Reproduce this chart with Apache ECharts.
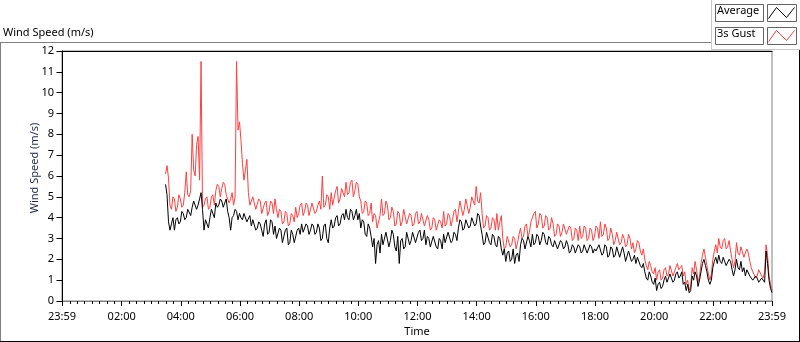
<!DOCTYPE html>
<html>
<head>
<meta charset="utf-8">
<script src="https://cdn.jsdelivr.net/npm/echarts@6/dist/echarts.min.js"></script>
<style>
  html, body { margin: 0; padding: 0; background: #fff; }
  #wind { width: 800px; height: 342px; }
</style>
</head>
<body>
<div id="wind"></div>
<script>
/* wind speed waveform chart (LabVIEW style) */

// "A" samples every 6 minutes from 03:29 to 23:59,
// "B" samples sit 3 minutes after each "A" sample
var startMinute = 3 * 60 + 29;
var stepMinutes = 6;

var seriesNames = ['Average', '3s Gust'];

var gustA = [
  6.1, 5.9, 4.4, 4.9, 4.5, 4.9, 4.6, 6.2, 5.0, 8.0,
  6.0, 7.9, 11.5, 4.6, 5.0, 4.5, 5.1, 5.3, 5.5, 5.4,
  5.6, 5.1, 4.9, 4.6, 11.5, 8.6, 6.6, 6.3, 5.2, 4.6,
  5.0, 4.4, 4.8, 4.2, 4.8, 4.3, 4.7, 4.9, 4.0, 4.3,
  3.8, 4.2, 3.7, 4.1, 4.5, 4.2, 4.7, 4.3, 4.6, 4.4,
  4.7, 4.3, 4.8, 6.0, 4.6, 5.0, 5.2, 4.6, 5.5, 4.9,
  5.4, 5.7, 5.2, 5.8, 5.3, 5.6, 4.8, 4.3, 4.7, 4.2,
  3.8, 4.1, 3.5, 4.9, 4.2, 4.6, 4.0, 4.3, 3.7, 4.2,
  3.8, 4.4, 3.7, 4.1, 3.7, 4.3, 3.8, 4.2, 3.6, 3.9,
  3.5, 3.9, 3.4, 3.8, 4.3, 3.7, 4.1, 3.9, 4.4, 4.3,
  4.8, 4.4, 4.9, 4.5, 5.0, 5.5, 4.7, 4.2, 3.6, 4.0,
  3.5, 3.9, 4.2, 3.8, 3.0, 2.6, 3.1, 2.7, 3.0, 2.8,
  3.5, 3.1, 3.7, 3.3, 3.8, 4.3, 3.7, 4.1, 3.6, 4.0,
  3.5, 3.7, 3.2, 3.6, 3.3, 3.7, 3.2, 3.5, 3.0, 3.4,
  3.6, 3.1, 3.5, 3.0, 3.4, 3.1, 3.5, 3.8, 3.2, 3.5,
  3.0, 3.2, 2.9, 3.3, 2.8, 3.0, 2.7, 3.0, 2.8, 2.5,
  2.8, 2.2, 2.0, 1.5, 1.7, 1.3, 1.0, 1.5, 1.1, 1.6,
  1.3, 1.7, 1.4, 1.8, 1.6, 1.2, 0.8, 0.5, 1.6, 1.9,
  0.9, 1.8, 2.5, 1.7, 1.0, 2.0, 2.7, 3.0, 2.5, 3.0,
  2.6, 2.4, 1.6, 2.8, 2.2, 2.6, 2.1, 2.3, 1.6, 1.4,
  1.2, 1.5, 1.1, 2.7, 1.2, 0.5
];

var gustB = [
  6.5, 4.6, 5.0, 4.3, 5.1, 4.5, 5.2, 5.1, 5.3, 6.3,
  7.5, 5.8, 4.5, 4.9, 4.4, 5.0, 4.6, 5.6, 5.0, 5.7,
  5.1, 4.7, 5.2, 5.0, 8.2, 7.7, 5.8, 6.8, 4.6, 5.0,
  4.4, 4.9, 4.2, 4.7, 4.1, 4.8, 4.2, 4.4, 4.4, 3.7,
  4.3, 3.6, 4.2, 3.8, 4.0, 4.6, 4.1, 4.7, 4.1, 4.7,
  4.2, 4.6, 4.4, 4.5, 5.1, 4.4, 4.6, 5.3, 4.7, 5.4,
  5.0, 5.1, 5.7, 5.0, 5.7, 5.0, 4.2, 4.8, 4.1, 4.7,
  4.2, 3.5, 4.1, 4.1, 4.8, 3.9, 4.5, 3.6, 4.3, 3.6,
  4.4, 3.7, 4.2, 3.6, 4.2, 3.7, 4.2, 3.6, 4.1, 3.4,
  4.0, 3.4, 3.9, 3.5, 3.6, 4.2, 3.6, 4.3, 3.8, 4.8,
  4.1, 4.9, 4.2, 5.0, 4.6, 4.8, 5.2, 3.5, 4.1, 3.4,
  4.0, 3.4, 3.4, 4.1, 2.5, 3.1, 2.6, 3.1, 2.5, 3.2,
  3.0, 3.6, 3.1, 3.8, 4.2, 3.5, 4.2, 3.5, 4.1, 3.4,
  4.0, 3.1, 3.7, 3.1, 3.7, 3.2, 3.6, 2.9, 3.5, 2.9,
  3.0, 3.6, 2.9, 3.5, 2.9, 3.6, 3.0, 3.1, 3.7, 2.9,
  3.5, 2.7, 3.3, 2.7, 3.2, 2.6, 3.2, 2.5, 2.3, 2.9,
  2.4, 2.5, 1.7, 1.9, 1.4, 1.6, 1.4, 1.0, 1.5, 1.2,
  1.7, 1.2, 1.6, 1.5, 1.7, 1.4, 1.0, 0.7, 1.3, 1.5,
  1.2, 2.2, 2.1, 1.3, 1.3, 2.4, 2.3, 2.6, 2.9, 2.5,
  2.9, 2.0, 1.9, 2.3, 2.6, 2.1, 2.5, 1.9, 1.4, 1.1,
  1.5, 1.2, 1.4, 2.2, 0.8
];

var avgA = [
  5.6, 3.8, 3.7, 3.4, 4.0, 3.8, 4.2, 4.0, 4.4, 4.5,
  4.8, 4.6, 5.2, 3.4, 3.9, 4.0, 4.4, 4.7, 4.6, 4.8,
  4.7, 4.3, 3.4, 4.1, 4.3, 4.2, 3.9, 4.2, 3.8, 3.6,
  3.9, 3.5, 3.7, 3.1, 3.9, 3.3, 3.8, 3.6, 3.0, 3.4,
  2.8, 3.5, 2.8, 3.2, 2.8, 3.5, 3.7, 3.3, 3.6, 3.4,
  3.6, 3.3, 3.5, 3.0, 3.7, 2.8, 3.9, 3.6, 4.1, 3.7,
  4.2, 4.4, 3.9, 4.3, 4.1, 3.9, 3.5, 3.8, 3.1, 3.5,
  2.6, 1.8, 2.9, 3.2, 2.7, 3.3, 2.9, 3.2, 2.4, 1.8,
  3.0, 2.6, 3.3, 2.9, 3.3, 2.8, 3.4, 3.0, 2.7, 3.0,
  2.6, 3.1, 2.5, 2.9, 3.2, 2.8, 3.3, 2.9, 3.2, 3.5,
  3.8, 3.5, 3.9, 3.6, 4.0, 3.7, 4.1, 3.2, 2.8, 3.3,
  2.7, 3.1, 2.6, 3.0, 2.2, 1.9, 2.4, 2.0, 1.8, 2.3,
  2.7, 2.9, 2.5, 2.9, 3.2, 2.8, 3.1, 2.9, 3.2, 2.7,
  3.0, 2.6, 2.9, 2.5, 2.8, 2.6, 2.7, 2.4, 2.6, 2.3,
  2.6, 2.4, 2.7, 2.3, 2.6, 2.5, 2.4, 2.7, 2.3, 2.6,
  2.2, 2.5, 2.2, 2.6, 2.1, 2.3, 1.9, 2.4, 2.0, 1.8,
  2.1, 1.6, 1.4, 1.0, 1.2, 0.8, 0.5, 0.9, 0.7, 1.2,
  0.9, 1.1, 1.0, 1.4, 1.2, 0.8, 0.5, 0.4, 1.2, 1.4,
  0.7, 1.4, 2.0, 1.4, 0.8, 1.6, 2.1, 2.2, 1.8, 2.1,
  1.7, 1.9, 1.2, 2.0, 1.5, 1.4, 1.2, 1.5, 1.1, 1.0,
  1.1, 0.9, 1.0, 2.4, 1.0, 0.4
];

var avgB = [
  5.1, 3.4, 4.0, 3.9, 3.7, 4.3, 3.9, 4.4, 4.1, 4.8,
  4.4, 4.9, 4.4, 3.9, 3.5, 4.4, 4.0, 4.5, 4.9, 4.5,
  4.9, 4.0, 4.0, 4.4, 3.9, 4.0, 4.2, 3.8, 4.1, 3.9,
  3.4, 3.8, 3.4, 3.7, 3.2, 3.9, 3.2, 3.0, 3.5, 2.8,
  3.4, 2.7, 3.4, 2.8, 3.4, 3.2, 3.3, 3.7, 3.2, 3.7,
  3.2, 3.7, 2.9, 3.6, 3.0, 3.5, 3.5, 4.0, 3.6, 4.1,
  3.9, 4.0, 4.4, 3.9, 4.4, 4.2, 3.9, 3.2, 3.7, 3.1,
  3.0, 2.7, 2.3, 2.7, 3.3, 2.6, 3.4, 2.6, 3.1, 2.9,
  2.5, 3.3, 2.7, 3.3, 2.8, 3.3, 2.9, 3.4, 3.1, 2.6,
  3.1, 2.6, 3.0, 2.5, 2.8, 3.3, 2.8, 3.3, 2.9, 3.9,
  3.4, 3.9, 3.5, 4.0, 3.6, 4.2, 3.6, 2.7, 3.3, 2.8,
  3.2, 2.7, 3.1, 2.5, 2.5, 2.3, 1.9, 2.5, 2.2, 1.9,
  3.0, 2.5, 3.1, 2.6, 2.7, 3.2, 2.7, 3.3, 2.8, 3.1,
  2.7, 2.9, 2.5, 2.9, 2.5, 2.9, 2.3, 2.7, 2.3, 2.7,
  2.3, 2.7, 2.3, 2.7, 2.3, 2.4, 2.7, 2.2, 2.7, 2.1,
  2.6, 2.1, 2.6, 2.1, 2.6, 1.9, 2.4, 1.9, 2.2, 2.1,
  1.7, 1.8, 1.1, 1.4, 0.9, 1.1, 0.8, 0.6, 1.0, 0.9,
  1.3, 0.9, 1.3, 1.1, 1.4, 0.9, 0.8, 0.5, 1.0, 1.2,
  1.0, 1.8, 1.7, 1.0, 1.0, 1.9, 1.8, 1.9, 2.1, 1.7,
  2.0, 1.5, 1.5, 1.6, 1.9, 1.6, 1.5, 1.2, 1.0, 1.2,
  0.9, 1.1, 0.9, 1.8, 0.6
];

// axis: hours of day, from 23:59 the day before to 23:59
var xMin = -1 / 60;
var xMax = 24 - 1 / 60;
var majorTicks = [xMin, 2, 4, 6, 8, 10, 12, 14, 16, 18, 20, 22, xMax];
var minorTicks = [];
for (var m = 15; m < 24 * 60; m += 15) {
  if (m % 120 !== 0) minorTicks.push(m / 60);
}

// merge A and B samples into one [hour, value] list in time order
function toPairs(a, b) {
  var out = [];
  for (var i = 0; i < a.length; i++) {
    var t = startMinute + i * stepMinutes;
    out.push([t / 60, a[i]]);
    if (i < b.length) out.push([(t + stepMinutes / 2) / 60, b[i]]);
  }
  return out;
}

function timeLabel(v) {
  if (v < 0 || v > 23.9) return '23:59';
  var h = Math.round(v);
  return (h < 10 ? '0' : '') + h + ':00';
}

var font = 'Noto Sans';

var option = {
  animation: false,
  textStyle: { fontFamily: font },
  title: {
    text: 'Wind Speed (m/s)',
    left: 3,
    top: 27,
    padding: 0,
    textStyle: { fontSize: 11, fontWeight: 'normal', color: '#000', fontFamily: font }
  },
  grid: {
    left: 62,
    top: 51,
    right: 28,
    bottom: 39,
    show: true,
    borderColor: '#808080',
    borderWidth: 1,
    backgroundColor: '#fff'
  },
  xAxis: [{
    type: 'value',
    position: 'bottom',
    min: xMin,
    max: xMax,
    name: 'Time',
    nameLocation: 'middle',
    nameGap: 25,
    nameMoveOverlap: false,
    nameTextStyle: { fontSize: 11, color: '#000' },
    axisLine: { show: true, lineStyle: { color: '#808080', width: 1 } },
    axisTick: { show: true, length: 5, customValues: majorTicks, lineStyle: { color: '#000' } },
    axisLabel: {
      customValues: majorTicks,
      formatter: timeLabel,
      fontSize: 11,
      color: '#000',
      margin: 10,
      showMinLabel: true,
      showMaxLabel: true
    },
    splitLine: { show: false }
  }, {
    type: 'value',
    position: 'bottom',
    min: xMin,
    max: xMax,
    axisLine: { show: false },
    axisTick: { show: true, length: 3, customValues: minorTicks, lineStyle: { color: '#000' } },
    axisLabel: { show: false },
    splitLine: { show: false }
  }, {
    type: 'value',
    position: 'top',
    min: xMin,
    max: xMax,
    axisLine: { show: true, lineStyle: { color: '#000', width: 1 } },
    axisTick: { show: false },
    axisLabel: { show: false },
    splitLine: { show: false }
  }],
  yAxis: {
    type: 'value',
    min: 0,
    max: 12,
    interval: 1,
    name: 'Wind Speed (m/s)',
    nameLocation: 'middle',
    nameGap: 22,
    nameMoveOverlap: false,
    nameTextStyle: { fontSize: 11, color: '#1c2a4c', padding: [0, 0, 0, 16] },
    axisLine: { show: true, lineStyle: { color: '#000', width: 1 } },
    axisTick: { show: true, length: 6, lineStyle: { color: '#000' } },
    axisLabel: { fontSize: 11, color: '#000', margin: 8 },
    splitLine: { show: false }
  },
  series: [{
    name: seriesNames[1],
    type: 'line',
    data: toPairs(gustA, gustB),
    showSymbol: false,
    symbol: 'none',
    lineStyle: { color: '#ff4040', width: 1 },
    z: 2
  }, {
    name: seriesNames[0],
    type: 'line',
    data: toPairs(avgA, avgB),
    showSymbol: false,
    symbol: 'none',
    lineStyle: { color: '#000', width: 1 },
    z: 3
  }],
  graphic: [
    // outer frame
    { type: 'line', shape: { x1: 0, y1: 42.5, x2: 712, y2: 42.5 }, style: { stroke: '#808080', lineWidth: 1 } },
    { type: 'line', shape: { x1: 0.5, y1: 42, x2: 0.5, y2: 342 }, style: { stroke: '#808080', lineWidth: 1 } },
    { type: 'line', shape: { x1: 0, y1: 341.5, x2: 800, y2: 341.5 }, style: { stroke: '#000', lineWidth: 1 } },
    { type: 'line', shape: { x1: 799.5, y1: 49, x2: 799.5, y2: 342 }, style: { stroke: '#000', lineWidth: 1 } },
    { type: 'line', shape: { x1: 711.5, y1: 0, x2: 711.5, y2: 49 }, style: { stroke: '#c8c8c8', lineWidth: 1 } },
    { type: 'line', shape: { x1: 711, y1: 49.5, x2: 800, y2: 49.5 }, style: { stroke: '#c8c8c8', lineWidth: 1 } },
    // legend
    { type: 'rect', shape: { x: 715.5, y: 4.5, width: 48, height: 17 }, style: { fill: '#fff', stroke: '#646464', lineWidth: 1 } },
    { type: 'text', left: 717, top: 5, style: { text: seriesNames[0], fontSize: 11, fontFamily: font, fill: '#000' } },
    { type: 'rect', shape: { x: 767.5, y: 4.5, width: 29, height: 17 }, style: { fill: '#fff', stroke: '#646464', lineWidth: 1 } },
    { type: 'polyline', shape: { points: [[768.5, 18.5], [776.5, 7.5], [786.5, 17.5], [794.5, 7.5]] }, style: { stroke: '#000', lineWidth: 1, fill: null } },
    { type: 'rect', shape: { x: 715.5, y: 27.5, width: 48, height: 17 }, style: { fill: '#fff', stroke: '#646464', lineWidth: 1 } },
    { type: 'text', left: 717, top: 28, style: { text: seriesNames[1], fontSize: 11, fontFamily: font, fill: '#000' } },
    { type: 'rect', shape: { x: 767.5, y: 27.5, width: 29, height: 17 }, style: { fill: '#fff', stroke: '#646464', lineWidth: 1 } },
    { type: 'polyline', shape: { points: [[768.5, 41.5], [776.5, 30.5], [786.5, 40.5], [794.5, 30.5]] }, style: { stroke: '#ff4040', lineWidth: 1, fill: null } }
  ]
};

var chart = echarts.init(document.getElementById('wind'));
chart.setOption(option);
window.addEventListener('resize', function () {
  chart.resize();
});
</script>
</body>
</html>
